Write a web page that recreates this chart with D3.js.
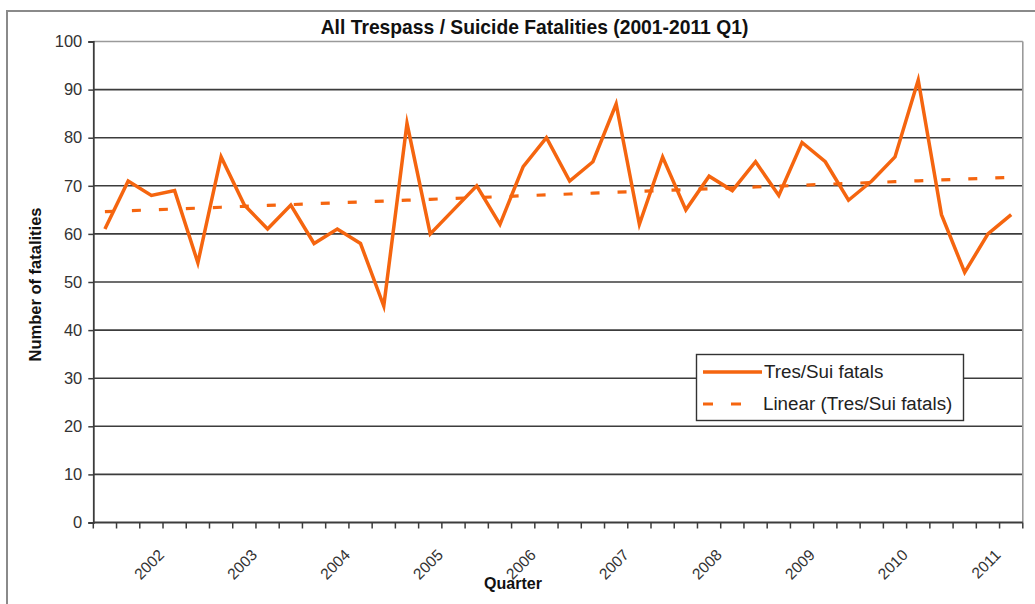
<!DOCTYPE html>
<html><head><meta charset="utf-8">
<script src="https://cdn.jsdelivr.net/npm/d3@7/dist/d3.min.js"></script>
<style>
html,body{margin:0;padding:0;background:#fff;}
svg{display:block;font-family:"Liberation Sans",Arial,sans-serif;}
</style></head>
<body>
<svg id="chart" width="1035" height="604"></svg>
<script>
// ---- data ----
const quarters = [
 "2001 Q2","2001 Q3","2001 Q4",
 "2002 Q1","2002 Q2","2002 Q3","2002 Q4",
 "2003 Q1","2003 Q2","2003 Q3","2003 Q4",
 "2004 Q1","2004 Q2","2004 Q3","2004 Q4",
 "2005 Q1","2005 Q2","2005 Q3","2005 Q4",
 "2006 Q1","2006 Q2","2006 Q3","2006 Q4",
 "2007 Q1","2007 Q2","2007 Q3","2007 Q4",
 "2008 Q1","2008 Q2","2008 Q3","2008 Q4",
 "2009 Q1","2009 Q2","2009 Q3","2009 Q4",
 "2010 Q1","2010 Q2","2010 Q3","2010 Q4",
 "2011 Q1"];
const fatalities = [61,71,68,69,54,76,66,61,66,58,61,58,45,83,60,65,70,62,74,80,71,75,87,62,76,65,72,69,75,68,79,75,67,71,76,92,64,52,60,64];
const yearTicks = ["2002","2003","2004","2005","2006","2007","2008","2009","2010","2011"];
const yTicks = [0,10,20,30,40,50,60,70,80,90,100];
const title = "All Trespass / Suicide Fatalities (2001-2011 Q1)";
const seriesName = "Tres/Sui fatals";
const trendName = "Linear (Tres/Sui fatals)";

// ---- layout ----
const svg = d3.select("#chart");
const L = 93.3, R = 1022.8, T = 41.5, B = 522.5;
const orange = "#f5650f";

// chart frame
svg.append("rect").attr("x",7).attr("y",11).attr("width",1040).attr("height",620)
  .attr("fill","none").attr("stroke","#8a8a8a").attr("stroke-width",2);

const x = d3.scaleBand().domain(quarters).range([L,R]).padding(0);
const y = d3.scaleLinear().domain([0,100]).range([B,T]);
const cx = d => x(d) + x.bandwidth()/2;

// gridlines
svg.append("g").selectAll("line").data(yTicks.filter(v=>v>0)).join("line")
  .attr("x1",L).attr("x2",R).attr("y1",d=>y(d)).attr("y2",d=>y(d))
  .attr("stroke",d=>d===100?"#9a9a9a":"#3c3c3c").attr("stroke-width",1.6);

// right border
svg.append("line").attr("x1",R).attr("x2",R).attr("y1",T).attr("y2",B)
  .attr("stroke","#9a9a9a").attr("stroke-width",1.6);

// y axis
const yAxis = d3.axisLeft(y).tickValues(yTicks).tickSize(5).tickPadding(6);
const gy = svg.append("g").attr("transform",`translate(${L},0)`).call(yAxis);
gy.select(".domain").attr("stroke","#3c3c3c").attr("stroke-width",1.8);
gy.selectAll(".tick line").attr("stroke","#3c3c3c").attr("stroke-width",1.5);
gy.selectAll(".tick text").attr("font-size",16.5).attr("fill","#333")
  .attr("font-family","'Liberation Sans',Arial,sans-serif");

// x axis (ticks at category boundaries)
const gx = svg.append("g").attr("transform",`translate(0,${B})`);
gx.append("line").attr("x1",L).attr("x2",R).attr("stroke","#3c3c3c").attr("stroke-width",1.8);
const bounds = quarters.map(q=>x(q)).concat([R]);
gx.selectAll("line.tk").data(bounds).join("line").attr("class","tk")
  .attr("x1",d=>d).attr("x2",d=>d).attr("y1",0).attr("y2",6)
  .attr("stroke","#3c3c3c").attr("stroke-width",1.5);

const q1s = quarters.filter(q=>q.endsWith("Q1"));
svg.append("g").selectAll("text").data(q1s).join("text")
  .attr("transform",(d,i)=>`translate(${cx(d)-9.5},${556}) rotate(-45)`)
  .attr("text-anchor","end").attr("font-size",15.5).attr("fill","#333")
  .text((d,i)=>yearTicks[i]);

// trend line (least squares on the series)
const idx = fatalities.map((v,i)=>i);
const mx = d3.mean(idx), my = d3.mean(fatalities);
const slope = d3.sum(idx.map(i=>(i-mx)*(fatalities[i]-my))) / d3.sum(idx.map(i=>(i-mx)*(i-mx)));
const icpt = my - slope*mx;
const trend = quarters.map((q,i)=>({q, v: icpt + slope*i}));

const line = d3.line().x(d=>cx(d.q)).y(d=>y(d.v));
svg.append("path").datum(trend).attr("d",line).attr("fill","none")
  .attr("stroke",orange).attr("stroke-width",3.2).attr("stroke-dasharray","9,18");

svg.append("path").datum(quarters.map((q,i)=>({q, v:fatalities[i]}))).attr("d",line)
  .attr("fill","none").attr("stroke",orange).attr("stroke-width",3.5)
  .attr("stroke-linejoin","miter").attr("stroke-miterlimit",10);

// title & axis titles
svg.append("text").attr("x",534.5).attr("y",34).attr("text-anchor","middle")
  .attr("font-size",19.3).attr("font-weight","bold").attr("fill","#111").text(title);
svg.append("text").attr("transform",`translate(41,284.5) rotate(-90)`).attr("text-anchor","middle")
  .attr("font-size",16.5).attr("font-weight","bold").attr("fill","#111").text("Number of fatalities");
svg.append("text").attr("x",513).attr("y",589).attr("text-anchor","middle")
  .attr("font-size",16).attr("font-weight","bold").attr("fill","#111").text("Quarter");

// legend
const lg = svg.append("g");
lg.append("rect").attr("x",696.5).attr("y",354.5).attr("width",267).attr("height",66)
  .attr("fill","#fff").attr("stroke","#333").attr("stroke-width",1.4);
lg.append("line").attr("x1",703).attr("x2",762).attr("y1",372).attr("y2",372)
  .attr("stroke",orange).attr("stroke-width",3.6);
lg.append("line").attr("x1",703).attr("x2",744).attr("y1",404).attr("y2",404)
  .attr("stroke",orange).attr("stroke-width",3.2).attr("stroke-dasharray","10,18");
lg.append("text").attr("x",764).attr("y",378).attr("font-size",18.8).attr("fill","#222").text(seriesName);
lg.append("text").attr("x",763).attr("y",410).attr("font-size",18.8).attr("fill","#222").text(trendName);
</script>
</body></html>
